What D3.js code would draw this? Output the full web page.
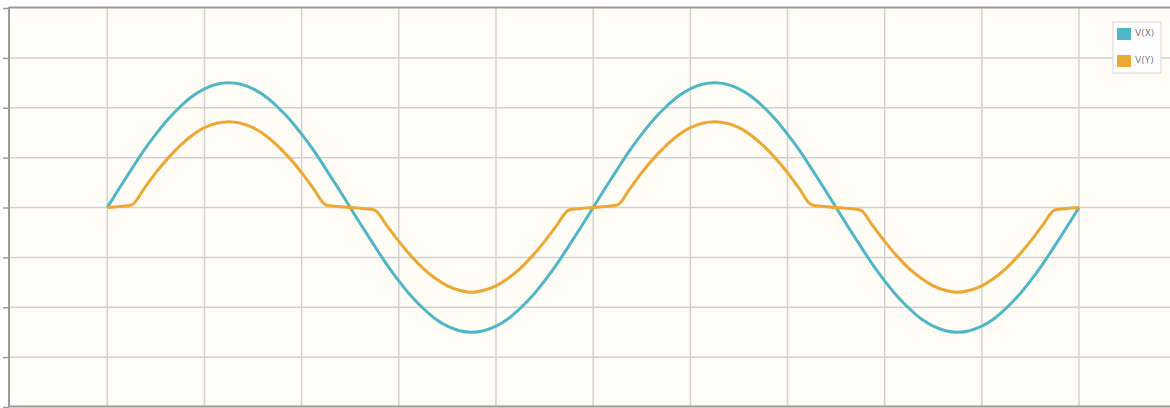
<!DOCTYPE html>
<html>
<head>
<meta charset="utf-8">
<script src="https://cdn.jsdelivr.net/npm/d3@7"></script>
<style>
  body { margin: 0; background: #fff; }
  svg { display: block; font-family: "DejaVu Sans", sans-serif; }
</style>
</head>
<body>
<div id="chart"></div>
<script>
// time samples (shared by both series)
var times = [0, 0.125, 0.25, 0.375, 0.5, 0.625, 0.75, 0.875, 1, 1.125, 1.25, 1.375, 1.5, 1.625, 1.75, 1.875,
             2, 2.125, 2.25, 2.375, 2.5, 2.625, 2.75, 2.875, 3, 3.125, 3.25, 3.375, 3.5, 3.625, 3.75, 3.875,
             4, 4.125, 4.25, 4.375, 4.5, 4.625, 4.75, 4.875, 5, 5.125, 5.25, 5.375, 5.5, 5.625, 5.75, 5.875,
             6, 6.125, 6.25, 6.375, 6.5, 6.625, 6.75, 6.875, 7, 7.125, 7.25, 7.375, 7.5, 7.625, 7.75, 7.875,
             8, 8.125, 8.25, 8.375, 8.5, 8.625, 8.75, 8.875, 9, 9.125, 9.25, 9.375, 9.5, 9.625, 9.75, 9.875, 10];

var vx = [0, 0.39, 0.77, 1.14, 1.47, 1.77, 2.02, 2.23, 2.38, 2.47, 2.50, 2.47, 2.38, 2.23, 2.02, 1.77,
          1.47, 1.14, 0.77, 0.39, 0, -0.39, -0.77, -1.14, -1.47, -1.77, -2.02, -2.23, -2.38, -2.47, -2.50, -2.47,
          -2.38, -2.23, -2.02, -1.77, -1.47, -1.14, -0.77, -0.39,
          0, 0.39, 0.77, 1.14, 1.47, 1.77, 2.02, 2.23, 2.38, 2.47, 2.50, 2.47, 2.38, 2.23, 2.02, 1.77,
          1.47, 1.14, 0.77, 0.39, 0, -0.39, -0.77, -1.14, -1.47, -1.77, -2.02, -2.23, -2.38, -2.47, -2.50, -2.47,
          -2.38, -2.23, -2.02, -1.77, -1.47, -1.14, -0.77, -0.39, 0];

var vy = [0, 0.02, 0.05, 0.37, 0.70, 0.99, 1.24, 1.45, 1.60, 1.69, 1.72, 1.69, 1.60, 1.45, 1.24, 0.99,
          0.70, 0.37, 0.05, 0.02, 0, -0.02, -0.05, -0.36, -0.68, -0.97, -1.22, -1.42, -1.57, -1.66, -1.70, -1.66,
          -1.57, -1.42, -1.22, -0.97, -0.68, -0.36, -0.05, -0.02,
          0, 0.02, 0.05, 0.37, 0.70, 0.99, 1.24, 1.45, 1.60, 1.69, 1.72, 1.69, 1.60, 1.45, 1.24, 0.99,
          0.70, 0.37, 0.05, 0.02, 0, -0.02, -0.05, -0.36, -0.68, -0.97, -1.22, -1.42, -1.57, -1.66, -1.70, -1.66,
          -1.57, -1.42, -1.22, -0.97, -0.68, -0.36, -0.05, -0.02, 0];

var seriesNames = ["V(X)", "V(Y)"];
var seriesColors = ["#4fb6c8", "#efa733"];
var xGridTicks = [0, 1, 2, 3, 4, 5, 6, 7, 8, 9, 10, 11];
var yTicks = [-4, -3, -2, -1, 0, 1, 2, 3, 4];

var w = 1170;
var h = 408;
var padL = 9, padT = 8, padB = 407;

var x = d3.scaleLinear().domain([0, 10]).range([107.3, 1079]);
var y = d3.scaleLinear().domain([-4, 4]).range([padB, padT]);

var svg = d3.select("#chart").append("svg").attr("width", w).attr("height", h);

svg.append("rect").attr("x", padL).attr("y", padT).attr("width", w - padL).attr("height", padB - padT)
  .attr("fill", "#fffdf6");

// grid
svg.append("g").selectAll("line").data(xGridTicks).enter().append("line")
  .attr("x1", function(d) { return x(d); }).attr("x2", function(d) { return x(d); })
  .attr("y1", padT).attr("y2", padB)
  .attr("stroke", "#d2d2d0").attr("stroke-width", 1.5);

svg.append("g").selectAll("line").data(yTicks.slice(1, -1)).enter().append("line")
  .attr("x1", padL).attr("x2", w)
  .attr("y1", function(d) { return y(d); }).attr("y2", function(d) { return y(d); })
  .attr("stroke", "#d2d2d0").attr("stroke-width", 1.5);

// axes
var yAxis = d3.axisLeft(y).tickValues(yTicks).tickSize(6).tickFormat("");
var gy = svg.append("g").attr("transform", "translate(" + padL + ",0)").call(yAxis);
gy.select(".domain").remove();
gy.selectAll(".tick line").attr("stroke", "#9a9a9a").attr("stroke-width", 1.5);

svg.append("line").attr("x1", padL).attr("x2", padL).attr("y1", padT - 1).attr("y2", padB)
  .attr("stroke", "#9a9a9a").attr("stroke-width", 2);
svg.append("line").attr("x1", padL).attr("x2", w).attr("y1", padT - 0.5).attr("y2", padT - 0.5)
  .attr("stroke", "#9a9a9a").attr("stroke-width", 2);
svg.append("line").attr("x1", padL).attr("x2", w).attr("y1", padB - 0.5).attr("y2", padB - 0.5)
  .attr("stroke", "#9a9a9a").attr("stroke-width", 2);

// lines
var line = d3.line()
  .x(function(d) { return x(d[0]); })
  .y(function(d) { return y(d[1]); })
  .curve(d3.curveMonotoneX);

[vx, vy].forEach(function(vals, i) {
  svg.append("path")
    .datum(times.map(function(t, j) { return [t, vals[j]]; }))
    .attr("fill", "none")
    .attr("stroke", seriesColors[i])
    .attr("stroke-width", 3)
    .attr("stroke-linejoin", "round")
    .attr("d", line);
});

// legend
var legend = svg.append("g").attr("transform", "translate(1113,22)");
legend.append("rect").attr("width", 48).attr("height", 51)
  .attr("fill", "#fff").attr("stroke", "#d6d6d6").attr("stroke-width", 1);
legend.selectAll("g.item").data(seriesNames).enter().append("g").attr("class", "item")
  .attr("transform", function(d, i) { return "translate(4," + (6 + i * 27) + ")"; })
  .each(function(d, i) {
    d3.select(this).append("rect").attr("width", 14).attr("height", 12).attr("fill", seriesColors[i]);
    d3.select(this).append("text").attr("x", 18).attr("y", 8).attr("font-size", 9)
      .attr("fill", "#777").text(d);
  });
</script>
</body>
</html>
